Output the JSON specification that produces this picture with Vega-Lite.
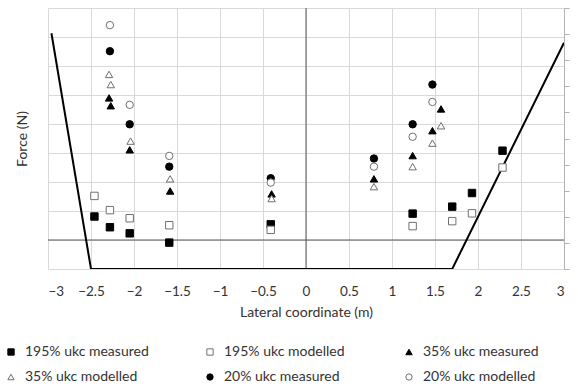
{
  "$schema": "https://vega.github.io/schema/vega-lite/v6.json",
  "width": 516,
  "height": 261,
  "autosize": "none",
  "padding": {"left": 48, "top": 8, "right": 14, "bottom": 121},
  "background": "white",
  "datasets": {
    "pts": [
      {"x": -2.46, "y": 0.81, "series": "195% ukc measured"},
      {"x": -2.28, "y": 0.44, "series": "195% ukc measured"},
      {"x": -2.05, "y": 0.23, "series": "195% ukc measured"},
      {"x": -1.59, "y": -0.09, "series": "195% ukc measured"},
      {"x": -0.41, "y": 0.54, "series": "195% ukc measured"},
      {"x": 1.24, "y": 0.91, "series": "195% ukc measured"},
      {"x": 1.70, "y": 1.15, "series": "195% ukc measured"},
      {"x": 1.93, "y": 1.62, "series": "195% ukc measured"},
      {"x": 2.285, "y": 3.08, "series": "195% ukc measured"},
      {"x": -2.46, "y": 1.52, "series": "195% ukc modelled"},
      {"x": -2.28, "y": 1.03, "series": "195% ukc modelled"},
      {"x": -2.05, "y": 0.75, "series": "195% ukc modelled"},
      {"x": -1.59, "y": 0.51, "series": "195% ukc modelled"},
      {"x": -0.41, "y": 0.35, "series": "195% ukc modelled"},
      {"x": 1.24, "y": 0.48, "series": "195% ukc modelled"},
      {"x": 1.70, "y": 0.65, "series": "195% ukc modelled"},
      {"x": 1.93, "y": 0.92, "series": "195% ukc modelled"},
      {"x": 2.285, "y": 2.50, "series": "195% ukc modelled"},
      {"x": -2.29, "y": 4.90, "series": "35% ukc measured"},
      {"x": -2.27, "y": 4.63, "series": "35% ukc measured"},
      {"x": -2.05, "y": 3.11, "series": "35% ukc measured"},
      {"x": -1.58, "y": 1.69, "series": "35% ukc measured"},
      {"x": -0.40, "y": 1.59, "series": "35% ukc measured"},
      {"x": 0.79, "y": 2.11, "series": "35% ukc measured"},
      {"x": 1.24, "y": 2.91, "series": "35% ukc measured"},
      {"x": 1.47, "y": 3.77, "series": "35% ukc measured"},
      {"x": 1.57, "y": 4.52, "series": "35% ukc measured"},
      {"x": -2.29, "y": 5.71, "series": "35% ukc modelled"},
      {"x": -2.27, "y": 5.36, "series": "35% ukc modelled"},
      {"x": -2.04, "y": 3.41, "series": "35% ukc modelled"},
      {"x": -1.58, "y": 2.11, "series": "35% ukc modelled"},
      {"x": -0.40, "y": 1.43, "series": "35% ukc modelled"},
      {"x": 0.79, "y": 1.84, "series": "35% ukc modelled"},
      {"x": 1.24, "y": 2.53, "series": "35% ukc modelled"},
      {"x": 1.47, "y": 3.34, "series": "35% ukc modelled"},
      {"x": 1.57, "y": 3.94, "series": "35% ukc modelled"},
      {"x": -2.28, "y": 6.51, "series": "20% ukc measured"},
      {"x": -2.05, "y": 3.99, "series": "20% ukc measured"},
      {"x": -1.59, "y": 2.53, "series": "20% ukc measured"},
      {"x": -0.41, "y": 2.13, "series": "20% ukc measured"},
      {"x": 0.79, "y": 2.81, "series": "20% ukc measured"},
      {"x": 1.24, "y": 3.99, "series": "20% ukc measured"},
      {"x": 1.47, "y": 5.36, "series": "20% ukc measured"},
      {"x": -2.28, "y": 7.41, "series": "20% ukc modelled"},
      {"x": -2.05, "y": 4.66, "series": "20% ukc modelled"},
      {"x": -1.59, "y": 2.90, "series": "20% ukc modelled"},
      {"x": -0.41, "y": 1.98, "series": "20% ukc modelled"},
      {"x": 0.79, "y": 2.53, "series": "20% ukc modelled"},
      {"x": 1.24, "y": 3.56, "series": "20% ukc modelled"},
      {"x": 1.47, "y": 4.76, "series": "20% ukc modelled"}
    ],
    "hull": [
      {"hx": -2.96, "hy": 7.13, "k": 1},
      {"hx": -2.5, "hy": -1, "k": 2},
      {"hx": 1.70, "hy": -1, "k": 3},
      {"hx": 3.0, "hy": 6.80, "k": 4}
    ],
    "zero": [{"v": 0}]
  },
  "layer": [
    {
      "data": {"name": "zero"},
      "mark": {"type": "rule", "color": "#595959", "strokeWidth": 1},
      "encoding": {
        "x": {"field": "v", "type": "quantitative"}
      }
    },
    {
      "data": {"name": "zero"},
      "mark": {"type": "rule", "color": "#595959", "strokeWidth": 1},
      "encoding": {
        "y": {
          "field": "v", "type": "quantitative",
          "axis": {
            "orient": "right", "values": [-1, -0.1, 0.8, 1.7, 2.6, 3.5, 4.4, 5.3, 6.2, 7.1, 8],
            "labels": false, "ticks": true, "tickSize": 5, "tickColor": "#b3b3b3",
            "domain": true, "domainColor": "#b3b3b3", "grid": false, "title": null
          }
        }
      }
    },
    {
      "data": {"name": "hull"},
      "mark": {"type": "line", "color": "#000000", "strokeWidth": 2, "clip": true},
      "encoding": {
        "x": {"field": "hx", "type": "quantitative"},
        "y": {"field": "hy", "type": "quantitative", "axis": null},
        "order": {"field": "k"}
      }
    },
    {
      "data": {"name": "pts"},
      "mark": {"type": "point", "filled": true, "size": 55, "strokeWidth": 1, "opacity": 1},
      "encoding": {
        "x": {
          "field": "x", "type": "quantitative",
          "scale": {"domain": [-3, 3], "nice": false, "zero": false},
          "axis": {
            "values": [-3, -2.5, -2, -1.5, -1, -0.5, 0, 0.5, 1, 1.5, 2, 2.5, 3],
            "format": "~f",
            "grid": true, "gridColor": "#d9d9d9", "domain": false, "ticks": false, "tickSize": 0,
            "labelPadding": 15, "labelFont": "Lato", "labelFontSize": 13.5, "labelColor": "#333333",
            "title": "Lateral coordinate (m)", "titleFont": "Lato", "titleFontSize": 14,
            "titleFontWeight": "normal", "titleColor": "#333333", "titlePadding": 8
          }
        },
        "y": {
          "field": "y", "type": "quantitative",
          "scale": {"domain": [-1, 8], "nice": false, "zero": false},
          "axis": {
            "values": [-1, 0, 1, 2, 3, 4, 5, 6, 7, 8],
            "grid": true, "gridColor": "#d9d9d9", "domain": false, "ticks": false, "tickSize": 0,
            "labels": false,
            "title": "Force (N)", "titleFont": "Lato", "titleFontSize": 14,
            "titleFontWeight": "normal", "titleColor": "#333333", "titlePadding": 19
          }
        },
        "shape": {
          "field": "series", "type": "nominal", "title": null,
          "scale": {
            "domain": ["195% ukc measured", "195% ukc modelled", "35% ukc measured", "35% ukc modelled", "20% ukc measured", "20% ukc modelled"],
            "range": ["square", "square", "triangle-up", "triangle-up", "circle", "circle"]
          }
        },
        "fill": {
          "field": "series", "type": "nominal", "title": null,
          "scale": {
            "domain": ["195% ukc measured", "195% ukc modelled", "35% ukc measured", "35% ukc modelled", "20% ukc measured", "20% ukc modelled"],
            "range": ["#000000", "#ffffff", "#000000", "#ffffff", "#000000", "#ffffff"]
          }
        },
        "stroke": {
          "field": "series", "type": "nominal", "title": null,
          "scale": {
            "domain": ["195% ukc measured", "195% ukc modelled", "35% ukc measured", "35% ukc modelled", "20% ukc measured", "20% ukc modelled"],
            "range": ["#000000", "#707070", "#000000", "#707070", "#000000", "#707070"]
          }
        }
      }
    }
  ],
  "resolve": {"axis": {"y": "independent"}},
  "config": {
    "view": {"stroke": null},
    "legend": {
      "orient": "none",
      "legendX": -44,
      "legendY": 337,
      "columns": 3,
      "direction": "horizontal",
      "gridAlign": "all",
      "columnPadding": 54,
      "rowPadding": 11,
      "padding": 0,
      "labelFont": "Lato",
      "labelFontSize": 14,
      "labelColor": "#333333",
      "labelOffset": 7,
      "symbolSize": 40,
      "symbolStrokeWidth": 1,
      "symbolOpacity": 1,
      "labelLimit": 300
    }
  }
}
